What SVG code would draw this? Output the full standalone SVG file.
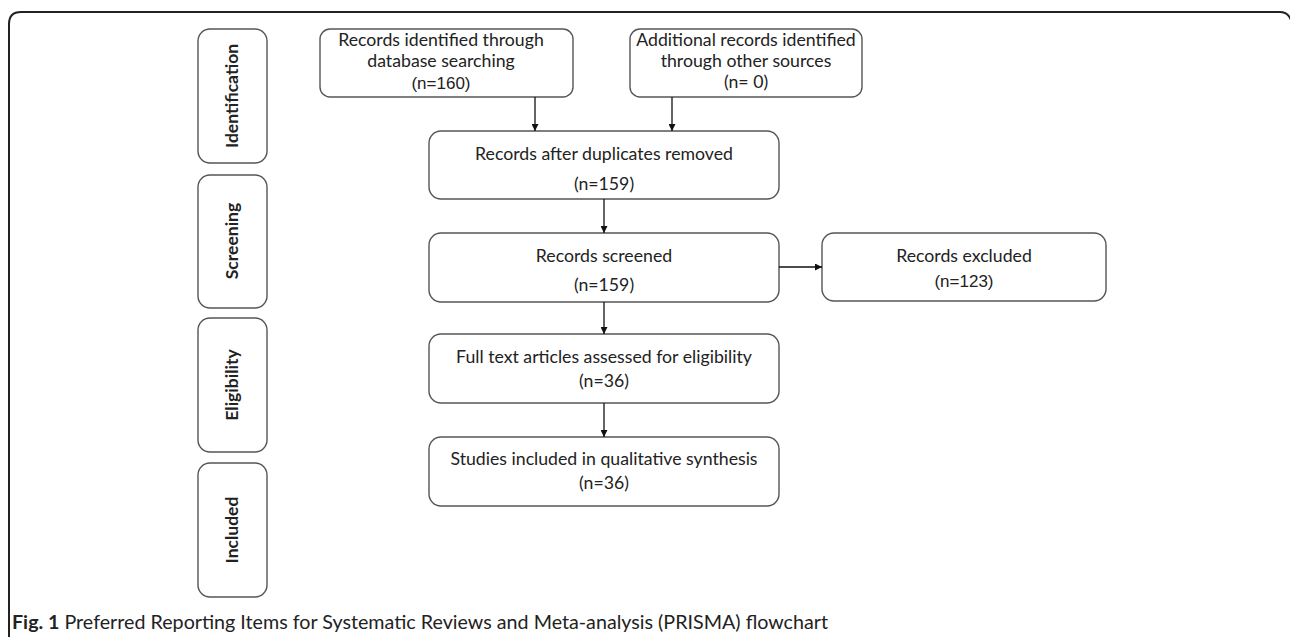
<svg xmlns="http://www.w3.org/2000/svg" width="1290" height="637" viewBox="0 0 1290 637">
<defs>
<style>
.box{fill:#fff;stroke:#555;stroke-width:1.4}
.t{font-family:Lato,"Open Sans",sans-serif;font-size:17.7px;fill:#222;text-anchor:middle}
.a{font-family:"Liberation Sans",Arial,sans-serif;font-size:17px;fill:#222;text-anchor:middle}
.side{font-family:Lato,"Open Sans",sans-serif;font-size:17.5px;font-weight:bold;fill:#222;text-anchor:middle}
.c{stroke:#111;stroke-width:1.3;fill:none;marker-end:url(#ah)}
</style>
<marker id="ah" viewBox="0 0 10 10" refX="10" refY="5" markerWidth="7" markerHeight="7" markerUnits="userSpaceOnUse" orient="auto">
<path d="M0,0 L10,5 L0,10 z" fill="#111"/>
</marker>
</defs>
<rect width="1290" height="637" fill="#fff"/>
<path d="M9,640 V24 Q9,12 21,12 H1280 Q1288,12 1291,20" fill="none" stroke="#222" stroke-width="2"/>

<g id="side-identification"><rect class="box" x="198" y="29" width="69" height="134" rx="12"/><text class="side" transform="translate(238,96) rotate(-90)">Identification</text></g>
<g id="side-screening"><rect class="box" x="198" y="175" width="69" height="133" rx="12"/><text class="side" transform="translate(238,241) rotate(-90)">Screening</text></g>
<g id="side-eligibility"><rect class="box" x="198" y="318" width="69" height="134" rx="12"/><text class="side" transform="translate(238,385) rotate(-90)">Eligibility</text></g>
<g id="side-included"><rect class="box" x="198" y="463" width="69" height="134" rx="12"/><text class="side" transform="translate(238,530) rotate(-90)">Included</text></g>

<g id="n-database"><rect class="box" x="320" y="29" width="253" height="68" rx="10"/><text class="t" x="441" y="46">Records identified through</text><text class="t" x="441" y="67">database searching</text><text class="a" x="441" y="89">(n=160)</text></g>
<g id="n-other"><rect class="box" x="630" y="29" width="232" height="68" rx="10"/><text class="t" x="746" y="46">Additional records identified</text><text class="t" x="746" y="67">through other sources</text><text class="t" x="746" y="88">(n= 0)</text></g>
<g id="n-dedup"><rect class="box" x="429" y="131" width="350" height="68" rx="12"/><text class="t" x="604" y="160">Records after duplicates removed</text><text class="t" x="604" y="190">(n=159)</text></g>
<g id="n-screened"><rect class="box" x="429" y="233" width="350" height="69" rx="12"/><text class="t" x="604" y="262">Records screened</text><text class="t" x="604" y="291">(n=159)</text></g>
<g id="n-excluded"><rect class="box" x="822" y="233" width="284" height="68" rx="12"/><text class="t" x="964" y="262">Records excluded</text><text class="a" x="964" y="287">(n=123)</text></g>
<g id="n-fulltext"><rect class="box" x="429" y="334" width="350" height="69" rx="12"/><text class="t" x="604" y="363">Full text articles assessed for eligibility</text><text class="t" x="604" y="387">(n=36)</text></g>
<g id="n-included"><rect class="box" x="429" y="437" width="350" height="69" rx="12"/><text class="t" x="604" y="465">Studies included in qualitative synthesis</text><text class="t" x="604" y="489">(n=36)</text></g>

<g id="connectors">
<line class="c" x1="535" y1="97" x2="535" y2="131"/>
<line class="c" x1="672" y1="97" x2="672" y2="131"/>
<line class="c" x1="604" y1="199" x2="604" y2="233"/>
<line class="c" x1="604" y1="302" x2="604" y2="334"/>
<line class="c" x1="604" y1="403" x2="604" y2="437"/>
<line class="c" x1="779" y1="267" x2="822" y2="267"/>
</g>

<text x="12" y="629" font-family="Lato,'Open Sans',sans-serif" font-size="19" fill="#222" textLength="816" lengthAdjust="spacingAndGlyphs"><tspan font-weight="bold">Fig. 1</tspan> Preferred Reporting Items for Systematic Reviews and Meta-analysis (PRISMA) flowchart</text>
</svg>
